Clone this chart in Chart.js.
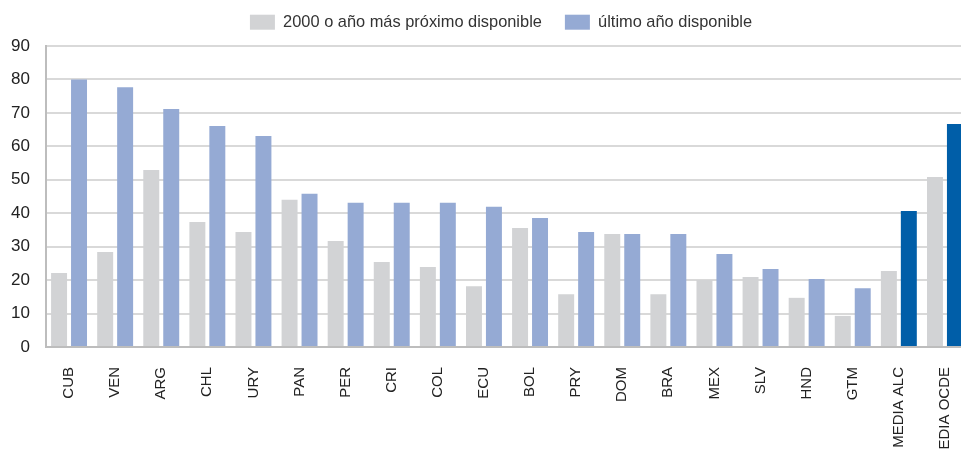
<!DOCTYPE html>
<html>
<head>
<meta charset="utf-8">
<script src="https://cdn.jsdelivr.net/npm/chart.js"></script>
<style>
    html, body { margin: 0; padding: 0; background: #fff; overflow: hidden; }
    #wrap { width: 968px; height: 450px; }
</style>
</head>
<body>
<div id="wrap"><canvas id="chart" width="968" height="450"></canvas></div>
<script>
const categories = ['CUB', 'VEN', 'ARG', 'CHL', 'URY', 'PAN', 'PER', 'CRI', 'COL', 'ECU',
    'BOL', 'PRY', 'DOM', 'BRA', 'MEX', 'SLV', 'HND', 'GTM', 'MEDIA ALC', 'MEDIA OCDE'];
const firstYear = [22.1, 28.4, 52.9, 37.4, 34.4, 44.0, 31.7, 25.4, 23.9, 18.2,
    35.6, 15.8, 33.8, 15.8, 20.0, 20.9, 14.7, 9.3, 22.7, 50.8];
const lastYear = [80.0, 77.7, 71.2, 66.1, 63.1, 45.8, 43.1, 43.1, 43.1, 41.9,
    38.6, 34.4, 33.8, 33.8, 27.8, 23.3, 20.3, 17.6, 40.7, 66.7];
const seriesNames = ['2000 o año más próximo disponible', 'último año disponible'];
const yTicks = [0, 10, 20, 30, 40, 50, 60, 70, 80, 90];

const GRAY = '#d2d3d5';
const LIGHT_BLUE = '#95aad4';
const DARK_BLUE = '#005ea8';
const FONT = 'Liberation Sans, Arial, Helvetica, sans-serif';

// averages get the dark blue
const lastColors = categories.map(c => c.startsWith('MEDIA') ? DARK_BLUE : LIGHT_BLUE);

// fixed legend height, and nudge the legend up/left so it sits like the reference
const legendTweak = {
    id: 'legendTweak',
    beforeInit(chart) {
        const lg = chart.legend;
        if (!lg) return;
        const fit = lg.fit;
        lg.fit = function () {
            fit.call(this);
            this.height = 46;
        };
        const draw = lg.draw;
        lg.draw = function () {
            const c = this.ctx;
            c.save();
            c.translate(-6, -9);
            draw.call(this);
            c.restore();
        };
    }
};

const ctx = document.getElementById('chart').getContext('2d');
new Chart(ctx, {
    type: 'bar',
    data: {
        labels: categories,
        datasets: [
            { label: seriesNames[0], data: firstYear, backgroundColor: GRAY,
              categoryPercentage: 0.866, barPercentage: 0.8 },
            { label: seriesNames[1], data: lastYear, backgroundColor: lastColors,
              categoryPercentage: 0.866, barPercentage: 0.8 }
        ]
    },
    options: {
        responsive: false,
        animation: false,
        layout: { padding: 0 },
        plugins: {
            tooltip: { enabled: false },
            legend: {
                position: 'top',
                fullSize: false,
                labels: {
                    boxWidth: 25,
                    boxHeight: 15,
                    padding: 23,
                    color: '#333',
                    font: { family: FONT, size: 16.4 }
                }
            }
        },
        scales: {
            x: {
                grid: { display: false },
                border: { display: true, color: '#bdbdbd', width: 2 },
                ticks: {
                    color: '#222',
                    font: { family: FONT, size: 15 },
                    minRotation: 90,
                    maxRotation: 90,
                    padding: 12,
                    autoSkip: false
                },
                afterFit(scale) {
                    scale.height = 103;
                    scale.paddingLeft = 0;
                    scale.paddingRight = 0;
                }
            },
            y: {
                min: 0,
                max: 90,
                afterBuildTicks(scale) { scale.ticks = yTicks.map(v => ({ value: v })); },
                grid: { color: '#d9d9d9', lineWidth: 2, drawTicks: false },
                border: { display: true, color: '#bdbdbd', width: 2 },
                ticks: {
                    color: '#222',
                    font: { family: FONT, size: 17 },
                    padding: 16
                },
                afterFit(scale) {
                    scale.width = 46;
                    scale.paddingTop = 0;
                    scale.paddingBottom = 0;
                }
            }
        }
    },
    plugins: [legendTweak]
});
</script>
</body>
</html>
